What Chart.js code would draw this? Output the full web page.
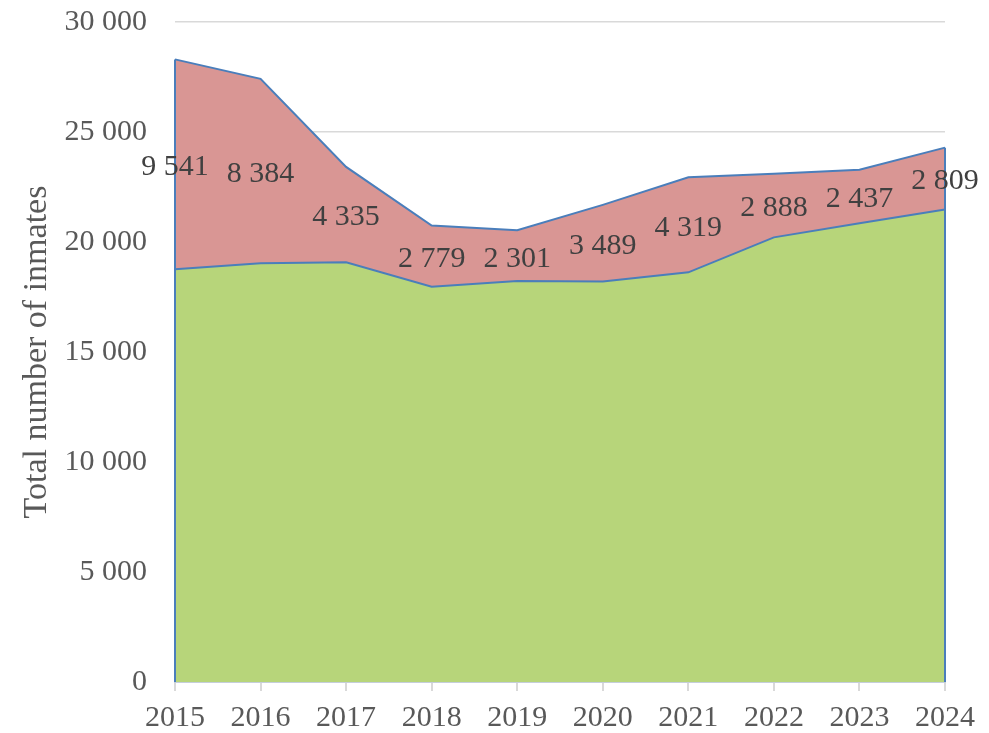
<!DOCTYPE html>
<html>
<head>
<meta charset="utf-8">
<script src="https://cdn.jsdelivr.net/npm/chart.js@4/dist/chart.umd.min.js"></script>
<style>
  body { margin: 0; background: #fff; }
  #wrap { width: 989px; height: 733px; position: relative; }
</style>
</head>
<body>
<div id="wrap"><canvas id="myChart"></canvas></div>
<script>
// values
var years = ["2015", "2016", "2017", "2018", "2019", "2020", "2021", "2022", "2023", "2024"];
var baseInmates = [18760, 19030, 19080, 17970, 18230, 18200, 18620, 20210, 20850, 21480];
var extraInmates = [9541, 8384, 4335, 2779, 2301, 3489, 4319, 2888, 2437, 2809];
var yTicks = [0, 5000, 10000, 15000, 20000, 25000, 30000];

var serif = "'Liberation Serif', 'DejaVu Serif', serif";
var lineBlue = '#4a7ebb';

function spaced(n) {
    return String(n).replace(/\B(?=(\d{3})+(?!\d))/g, ' ');
}

// labels in the middle of the red band + blue edges of the area
var bandLabels = {
    id: 'bandLabels',
    afterDatasetsDraw: function (chart) {
        var ctx = chart.ctx;
        var x = chart.scales.x, y = chart.scales.y;
        var last = years.length - 1;
        ctx.save();
        ctx.strokeStyle = lineBlue;
        ctx.lineWidth = 2;
        ctx.beginPath();
        ctx.moveTo(x.getPixelForValue(0), y.getPixelForValue(0));
        ctx.lineTo(x.getPixelForValue(0), y.getPixelForValue(baseInmates[0] + extraInmates[0]));
        ctx.moveTo(x.getPixelForValue(last), y.getPixelForValue(0));
        ctx.lineTo(x.getPixelForValue(last), y.getPixelForValue(baseInmates[last] + extraInmates[last]));
        ctx.stroke();

        ctx.font = '30px ' + serif;
        ctx.fillStyle = '#404040';
        ctx.textAlign = 'center';
        ctx.textBaseline = 'middle';
        for (var i = 0; i < years.length; i++) {
            var px = x.getPixelForValue(i);
            var py = y.getPixelForValue(baseInmates[i] + extraInmates[i] / 2);
            ctx.fillText(spaced(extraInmates[i]), px, py + 3);
        }
        ctx.restore();
    }
};

var ctx = document.getElementById('myChart').getContext('2d');
var chart = new Chart(ctx, {
    type: 'line',
    data: {
        labels: years,
        datasets: [{
            label: 'Base',
            data: baseInmates,
            backgroundColor: '#b7d57a',
            borderColor: lineBlue,
            borderWidth: 2,
            fill: 'origin',
            pointRadius: 0,
            tension: 0
        },
        {
            label: 'Extra',
            data: extraInmates,
            backgroundColor: '#d99694',
            borderColor: lineBlue,
            borderWidth: 2,
            fill: '-1',
            pointRadius: 0,
            tension: 0
        }]
    },
    options: {
        responsive: true,
        maintainAspectRatio: false,
        animation: false,
        layout: { padding: { top: 22, right: 44, left: 0, bottom: 0 } },
        plugins: {
            legend: { display: false },
            tooltip: { enabled: false }
        },
        scales: {
            x: {
                offset: false,
                grid: {
                    drawOnChartArea: false,
                    drawTicks: true,
                    tickLength: 9,
                    color: '#d9d9d9',
                    lineWidth: 2
                },
                border: { display: true, color: '#c5cedb', width: 2 },
                ticks: {
                    color: '#595959',
                    font: { family: serif, size: 30 },
                    padding: 9,
                    maxRotation: 0,
                    autoSkip: false
                },
                afterFit: function (scale) {
                    scale.height = 51;
                    scale.paddingLeft = 0;
                    scale.paddingRight = 0;
                }
            },
            y: {
                stacked: true,
                min: 0,
                max: 30000,
                afterBuildTicks: function (scale) {
                    scale.ticks = yTicks.map(function (v) { return { value: v }; });
                },
                grid: { color: '#d9d9d9', lineWidth: 1.5, drawTicks: false },
                border: { display: false },
                ticks: {
                    color: '#595959',
                    font: { family: serif, size: 30 },
                    padding: 28,
                    callback: function (v) { return spaced(v); }
                },
                title: {
                    display: true,
                    text: 'Total number of inmates',
                    color: '#595959',
                    font: { family: serif, size: 34 },
                    padding: { top: 17, bottom: 0 }
                },
                afterFit: function (scale) {
                    scale.width = 175;
                    scale.paddingTop = 0;
                    scale.paddingBottom = 0;
                }
            }
        }
    },
    plugins: [bandLabels]
});
</script>
</body>
</html>
